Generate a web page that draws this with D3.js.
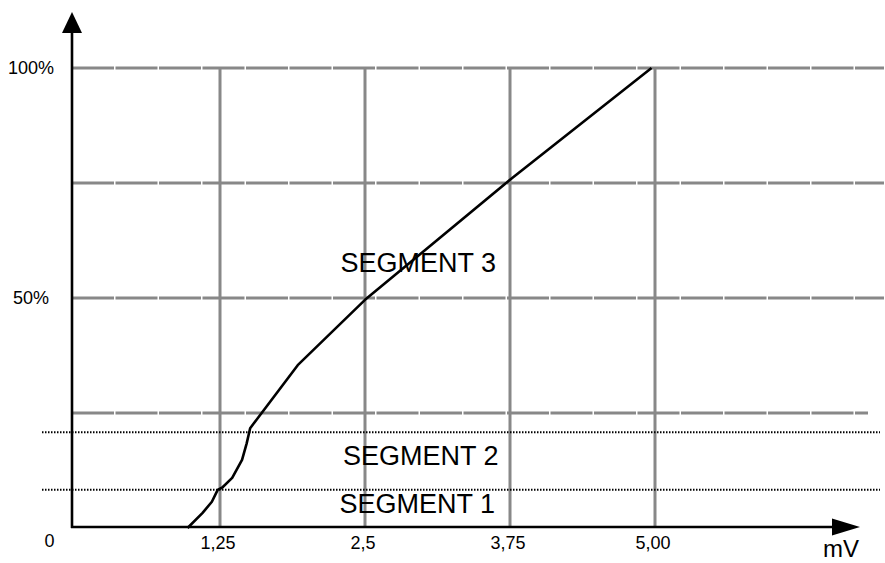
<!DOCTYPE html>
<meta charset="utf-8">
<script src="https://d3js.org/d3.v7.min.js"></script>
<style>
  body { margin: 0; background: #fff; }
  text { font-family: "Liberation Sans", Arial, Helvetica, sans-serif; fill: #000; }
</style>
<div id="chart"></div>
<script>
// data
const xTicks = [1.25, 2.5, 3.75, 5.0];
const xTickLabels = ["1,25", "2,5", "3,75", "5,00"];
const yGrid = [25, 50, 75, 100];
const yTicks = [50, 100];
const yTickLabels = ["50%", "100%"];
const curveMv  = [0.97, 1.10, 1.18, 1.23, 1.27, 1.355, 1.44, 1.48, 1.50, 1.51, 1.92, 2.50, 3.75, 4.97];
const curvePct = [0,    3.3,  5.7,  8.3,  8.8,  10.9,  14.8, 18.4, 20.6, 21.7, 35.4, 49.6, 75.7, 100];
const segmentBounds = [8.3, 20.8];
const segmentNames = ["SEGMENT 1", "SEGMENT 2", "SEGMENT 3"];
const segmentLabelMv = [2.95, 2.98, 2.96];
const segmentLabelPct = [3.3, 13.7, 55.7];

const W = 885, H = 563;
const svg = d3.select("#chart").append("svg")
  .attr("width", W).attr("height", H);

const x = d3.scaleLinear().domain([0, 5]).range([75, 655]);
const y = d3.scaleLinear().domain([0, 100]).range([528, 68]);
const axisX = 72, axisY = 527;

// gray grid
const grid = svg.append("g").attr("stroke", "#888").attr("stroke-width", 3);
grid.selectAll("line.h")
  .data(yGrid).enter().append("line")
  .attr("x1", axisX)
  .attr("x2", d => d === 25 ? 868 : 884)
  .attr("y1", d => y(d)).attr("y2", d => y(d))
  .attr("stroke-dasharray", "42,1.5");
grid.selectAll("line.v")
  .data(xTicks).enter().append("line")
  .attr("x1", d => x(d)).attr("x2", d => x(d))
  .attr("y1", y(100)).attr("y2", y(0));

// dotted segment boundaries
svg.append("g").selectAll("line")
  .data(segmentBounds).enter().append("line")
  .attr("x1", 42).attr("x2", 880)
  .attr("y1", d => y(d)).attr("y2", d => y(d))
  .attr("stroke", "#000").attr("stroke-width", 2)
  .attr("stroke-dasharray", "1.5,1.5");

// curve
const pts = curveMv.map((v, i) => [v, curvePct[i]]);
svg.append("path")
  .datum(pts)
  .attr("fill", "none")
  .attr("stroke", "#000")
  .attr("stroke-width", 2.6)
  .attr("stroke-linejoin", "round")
  .attr("d", d3.line().x(d => x(d[0])).y(d => y(d[1])));

// axes with arrows
svg.append("line")
  .attr("x1", axisX).attr("x2", axisX)
  .attr("y1", axisY + 1).attr("y2", 33)
  .attr("stroke", "#000").attr("stroke-width", 2.6);
svg.append("path")
  .attr("d", `M${axisX},12 L${axisX - 10},33 L${axisX + 10},33 Z`)
  .attr("fill", "#000");
svg.append("line")
  .attr("x1", axisX - 1).attr("x2", 833)
  .attr("y1", axisY).attr("y2", axisY)
  .attr("stroke", "#000").attr("stroke-width", 2.6);
svg.append("path")
  .attr("d", `M860,${axisY} L832,${axisY - 8.5} L832,${axisY + 8.5} Z`)
  .attr("fill", "#000");

// tick labels
svg.append("g").selectAll("text")
  .data(xTicks).enter().append("text")
  .attr("x", d => x(d) - 2).attr("y", 549)
  .attr("text-anchor", "middle")
  .style("font-size", "18px")
  .text((d, i) => xTickLabels[i]);
svg.append("g").selectAll("text")
  .data(yTicks).enter().append("text")
  .attr("x", 31).attr("y", d => y(d) + 6)
  .attr("text-anchor", "middle")
  .style("font-size", "18px")
  .text((d, i) => yTickLabels[i]);
svg.append("text")
  .attr("x", 49.5).attr("y", 547)
  .attr("text-anchor", "middle")
  .style("font-size", "18px")
  .text("0");
svg.append("text")
  .attr("x", 841).attr("y", 557)
  .attr("text-anchor", "middle")
  .style("font-size", "24px")
  .text("mV");

// segment names
svg.append("g").selectAll("text")
  .data(segmentNames).enter().append("text")
  .attr("x", (d, i) => x(segmentLabelMv[i]))
  .attr("y", (d, i) => y(segmentLabelPct[i]))
  .attr("text-anchor", "middle")
  .style("font-size", "27px")
  .text(d => d);
</script>
